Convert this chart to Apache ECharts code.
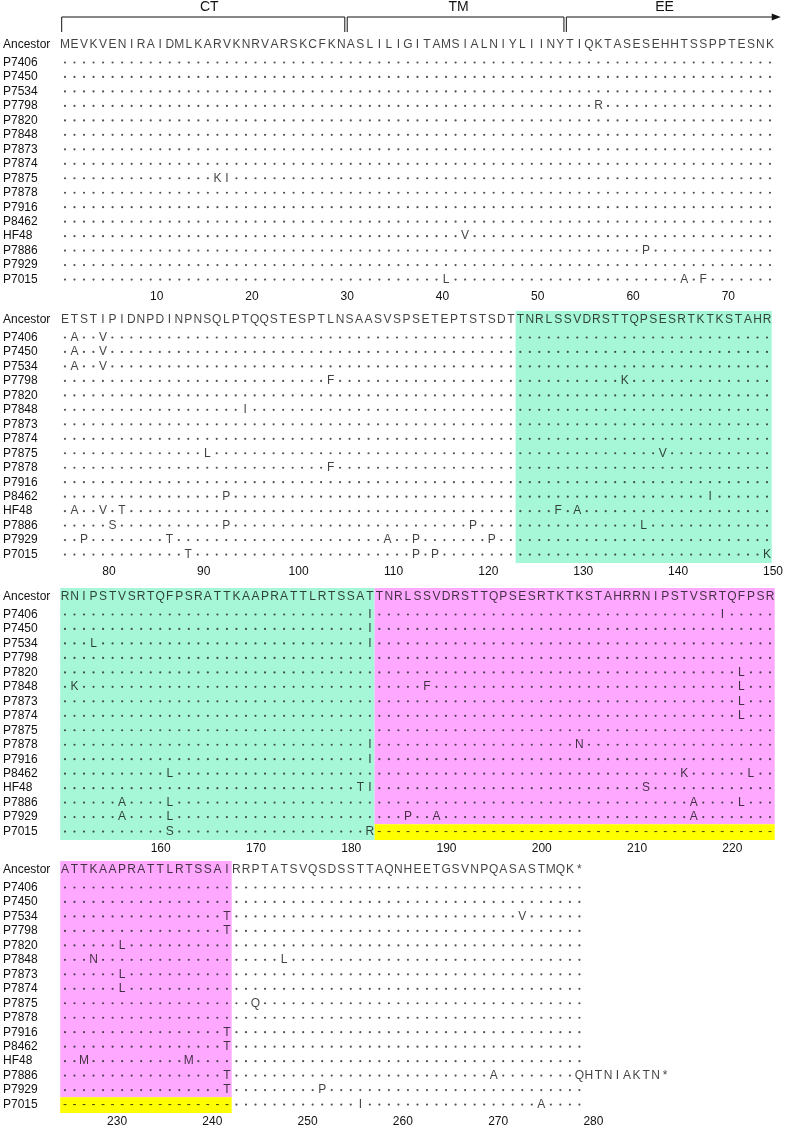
<!DOCTYPE html>
<html><head><meta charset="utf-8">
<script src="https://cdn.jsdelivr.net/npm/echarts@6/dist/echarts.min.js"></script>
<style>html,body{margin:0;padding:0;background:#fff}#c{width:786px;height:1133px}</style>
</head><body><div id="c"></div>
<script>
// ---------------- DATA ----------------
const strains = ["P7406","P7450","P7534","P7798","P7820","P7848","P7873","P7874","P7875","P7878","P7916","P8462","HF48","P7886","P7929","P7015"];
const ancestorBlock1 = "MEVKVENIRAIDMLKARVKNRVARSKCFKNASLILIGITAMSIALNIYLIINYTIQKTASESEHHTSSPPTESNK";
const ancestorBlock2 = "ETSTIPIDNPDINPNSQLPTQQSTESPTLNSAASVSPSETEPTSTSDTTNRLSSVDRSTTQPSESRTKTKSTAHR";
const ancestorBlock3 = "RNIPSTVSRTQFPSRATTKAAPRATTLRTSSATTNRLSSVDRSTTQPSESRTKTKSTAHRRNIPSTVSRTQFPSR";
const ancestorBlock4 = "ATTKAAPRATTLRTSSAIRRPTATSVQSDSSTTAQNHEETGSVNPQASASTMQK*";
const blockStarts = [1, 76, 151, 226];
const tickLabels = [[10,20,30,40,50,60,70],[80,90,100,110,120,130,140,150],[160,170,180,190,200,210,220],[230,240,250,260,270,280]];
const domains = [["CT",1,30],["TM",31,53],["EE",54,75]];
const repeatUnit1 = [124, 183];
const repeatUnit2 = [184, 243];
// substitutions, one string per strain (same order as strains)
const substitutions = [
  "77A 80V 183I 220I",
  "77A 80V 183I",
  "77A 80V 154L 183I 243T 274V",
  "57R 104F 135K 243T",
  "222L 232L",
  "95I 152K 189F 222L 229N 249L",
  "222L 232L",
  "222L 232L",
  "17K 18I 91L 139V 246Q",
  "104F 183I 205N",
  "183I 243T",
  "93P 144I 162L 216K 223L 243T",
  "43V 77A 80V 82T 128F 130A 182T 183I 212S 228M 239M",
  "62P 81S 93P 119P 137L 157A 162L 217A 222L 243T 271A",
  "78P 87T 110A 113P 121P 157A 162L 187P 190A 217A 243T 253P",
  "41L 66A 68F 89T 113P 115P 150K 162S 183R 257I 276A"
];
const deletionP7015 = [184, 243];
const extensionP7886 = "QHTNIAKTN*"; // replaces stop at 280

// ---------------- BUILD ----------------
const ancestorSeq = ancestorBlock1 + ancestorBlock2 + ancestorBlock3 + ancestorBlock4;
const seqLen = ancestorSeq.length;
const FONT = "'Liberation Sans', Arial, sans-serif";
const GREEN = '#a6f7d8', PINK = '#ffa8ff', YELLOW = '#ffff00';
const ROW_H = 14.47, ANC_Y = 9, FIRST_Y = 26.5, GRID_H = 252;
const rowY = i => i === 0 ? ANC_Y : FIRST_Y + (i - 1) * ROW_H;
const rowNames = ["Ancestor"].concat(strains);
const gridTops = [36, 311, 588, 861];
const labelShift = [0, 0, 4, 8];
const GRID_LEFT = 60.2, PITCH = 9.527, BLOCK_N = 75;

// per-strain sequence map
const strainChars = strains.map((s, si) => {
  const m = {};
  substitutions[si].split(/\s+/).filter(Boolean).forEach(t => {
    m[parseInt(t, 10)] = t.replace(/^\d+/, '');
  });
  return m;
});
const iP7015 = strains.indexOf("P7015"), iP7886 = strains.indexOf("P7886");
for (let p = deletionP7015[0]; p <= deletionP7015[1]; p++) strainChars[iP7015][p] = '-';
for (let k = 0; k < extensionP7886.length; k++) strainChars[iP7886][seqLen + k] = extensionP7886[k];

const grids = [], xAxes = [], yAxes = [], series = [];
blockStarts.forEach((start, b) => {
  const end = b < 3 ? blockStarts[b + 1] - 1 : seqLen;
  grids.push({left: GRID_LEFT, top: gridTops[b], width: PITCH * BLOCK_N, height: GRID_H});
  xAxes.push({
    type: 'value', gridIndex: b, min: start - 0.5, max: start + BLOCK_N - 0.5,
    axisLine: {show: false}, axisTick: {show: false}, splitLine: {show: false},
    axisLabel: {customValues: tickLabels[b], fontSize: 12, color: '#111', fontFamily: FONT, margin: 3,
      padding: [0, 0, 0, 12 + 2 * labelShift[b]]}
  });
  yAxes.push({
    type: 'value', gridIndex: b, inverse: true, min: 0, max: GRID_H,
    axisLine: {show: false}, axisTick: {show: false}, splitLine: {show: false},
    axisLabel: {
      customValues: rowNames.map((_, i) => rowY(i)),
      formatter: v => { let best = 0; rowNames.forEach((_, i) => { if (Math.abs(rowY(i) - v) < Math.abs(rowY(best) - v)) best = i; }); return rowNames[best]; },
      align: 'left', margin: GRID_LEFT - 3, fontSize: 12, color: '#111', fontFamily: FONT
    }
  });
  // backgrounds
  const areas = [];
  const yP7015top = rowY(iP7015 + 1) - ROW_H / 2;
  const addArea = (a, z, y0, y1, color) => {
    const s = Math.max(a, start), e = Math.min(z, end);
    if (s > e) return;
    areas.push([{xAxis: s - 0.5, yAxis: y0, itemStyle: {color}}, {xAxis: e + 0.5, yAxis: y1}]);
  };
  addArea(repeatUnit1[0], repeatUnit1[1], 0, GRID_H, GREEN);
  addArea(repeatUnit2[0], repeatUnit2[1], 0, yP7015top, PINK);
  addArea(deletionP7015[0], deletionP7015[1], yP7015top, GRID_H, YELLOW);
  series.push({type: 'scatter', xAxisIndex: b, yAxisIndex: b, data: [], z: 0, silent: true,
    markArea: {silent: true, data: areas}});
  // dots and letters
  const dots = [], letters = [];
  for (let p = start; p <= end; p++) letters.push([p, rowY(0), ancestorSeq[p - 1]]);
  strains.forEach((s, si) => {
    const m = strainChars[si];
    for (let p = start; p < start + BLOCK_N; p++) {
      if (m[p] !== undefined) letters.push([p, rowY(si + 1), m[p]]);
      else if (p <= end) dots.push([p, rowY(si + 1)]);
    }
  });
  series.push({type: 'scatter', xAxisIndex: b, yAxisIndex: b, data: dots, symbol: 'circle', symbolSize: 2.2,
    itemStyle: {color: '#262626'}, z: 2, silent: true, large: false, progressive: 0});
  series.push({type: 'scatter', xAxisIndex: b, yAxisIndex: b, data: letters, symbolSize: 0, z: 3, silent: true,
    large: false, progressive: 0,
    label: {show: true, position: 'inside', formatter: p => p.data[2], fontSize: 12, color: '#111', fontFamily: FONT}});
});

// domain brackets (CT / TM / EE)
series.push({
  type: 'custom', xAxisIndex: 0, yAxisIndex: 0, clip: false, silent: true, z: 5,
  data: domains.map(d => [d[1], d[2]]),
  renderItem: (params, api) => {
    const d = domains[params.dataIndex];
    const last = params.dataIndex === domains.length - 1;
    const first = params.dataIndex === 0;
    let x0 = api.coord([d[1] - 0.5, 0])[0] + (first ? 1.5 : 1.2);
    let x1 = api.coord([d[2] + 0.5, 0])[0] - (last ? 0 : 1.2);
    const top = api.coord([d[1], 0])[1];
    const yL = top - 19, yT = top - 4;
    const st = {stroke: '#111', lineWidth: 1, fill: null};
    const ch = [];
    if (last) {
      x1 = x1 + 6;
      ch.push({type: 'polyline', shape: {points: [[x0, yT], [x0, yL], [x1 - 8, yL]]}, style: st});
      ch.push({type: 'polygon', shape: {points: [[x1 - 9, yL - 3.5], [x1, yL], [x1 - 9, yL + 3.5]]}, style: {fill: '#111'}});
    } else {
      ch.push({type: 'polyline', shape: {points: [[x0, yT], [x0, yL], [x1, yL], [x1, yT]]}, style: st});
    }
    const cx = (last ? (x0 + x1 - 8) / 2 - 8 : (x0 + x1) / 2) + (first ? 6 : 3);
    ch.push({type: 'text', style: {text: d[0], x: cx, y: yL - 10, align: 'center', verticalAlign: 'middle',
      fontSize: 14, fill: '#111', fontFamily: FONT}});
    return {type: 'group', children: ch};
  }
});

const chart = echarts.init(document.getElementById('c'), null, {renderer: 'canvas'});
chart.setOption({animation: false, backgroundColor: '#fff', grid: grids, xAxis: xAxes, yAxis: yAxes, series});
</script></body></html>
